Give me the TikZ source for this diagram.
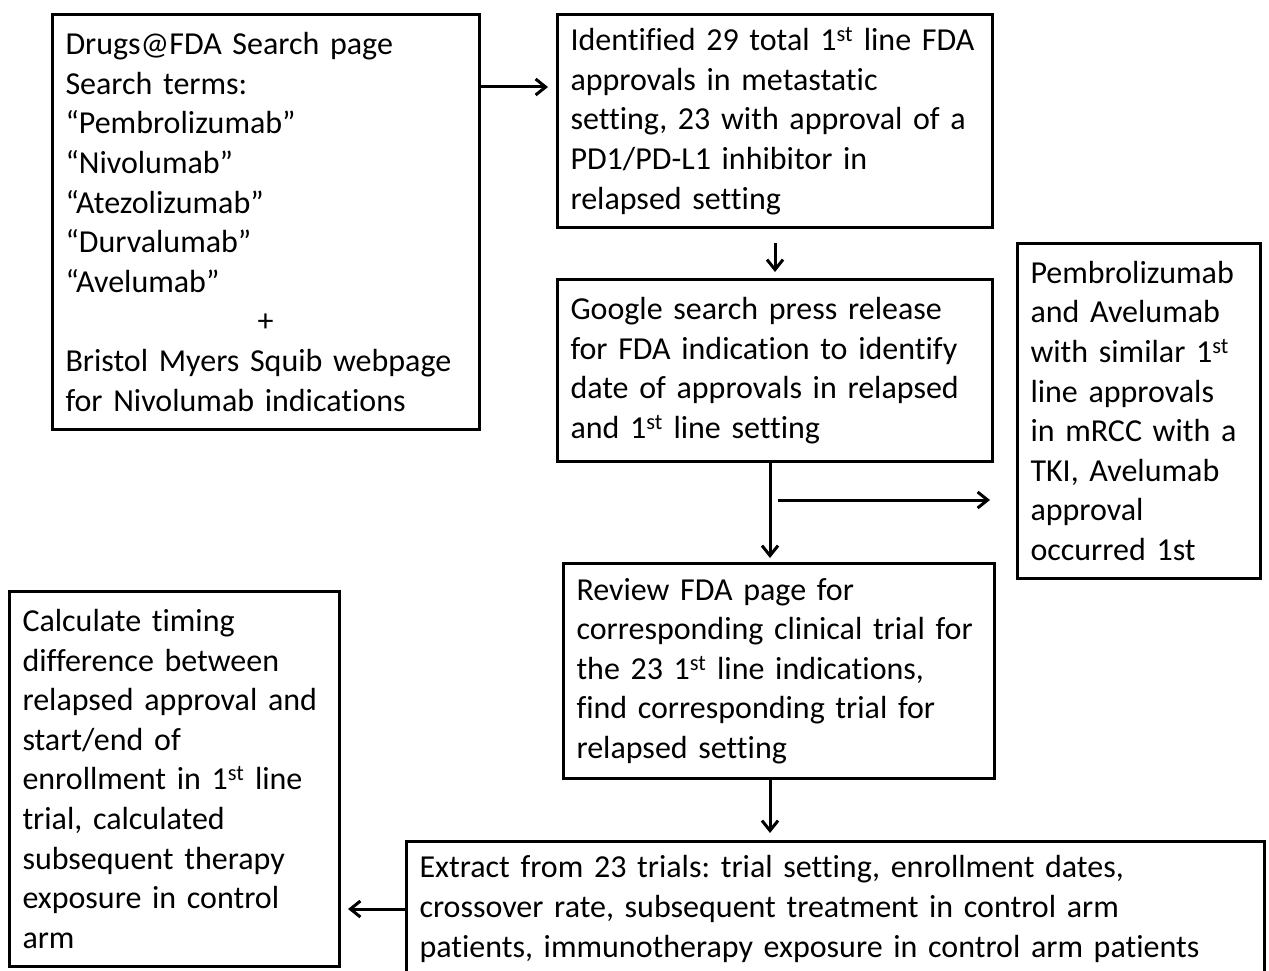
\documentclass[tikz,border=0pt]{standalone}
\usepackage{fontspec}
\setmainfont{Carlito}[Ligatures=NoCommon]
\usetikzlibrary{arrows.meta}
\frenchspacing
\newcommand\boxfont{\fontsize{32}{39.6}\selectfont\spaceskip=6.4pt plus 3pt\relax}

\begin{document}
\begin{tikzpicture}[x=1pt, y=-1pt, line width=3pt,
    every node/.style={font=\boxfont},
    box/.style={draw, anchor=north west, align=left, inner sep=0pt, inner xsep=13pt},
    flow/.style={line width=3pt, -{Straight Barb[length=10pt,width=16pt]}}]
    \useasboundingbox (0,0) rectangle (1269,971);
    % search sources
    \node[box, minimum width=427pt, minimum height=415pt, text width=401pt] (search) at (51,13)
        {Drugs@FDA Search page\\Search terms:\\“Pembrolizumab”\\“Nivolumab”\\“Atezolizumab”\\“Durvalumab”\\“Avelumab”\\\hspace*{192pt}+\\Bristol Myers Squib webpage\\for Nivolumab indications};
    \node[box, minimum width=435pt, minimum height=213pt, text width=409pt] (ident) at (556,13)
        {Identified 29 total 1\textsuperscript{st} line FDA\\approvals in metastatic\\setting, 23 with approval of a\\PD1/PD-L1 inhibitor in\\relapsed setting};
    \node[box, minimum width=435pt, minimum height=182pt, text width=409pt] (google) at (556,278)
        {Google search press release\\for FDA indication to identify\\date of approvals in relapsed\\and 1\textsuperscript{st} line setting};
    \node[box, minimum width=243pt, minimum height=335pt, text width=217pt] (pemb) at (1016,242)
        {Pembrolizumab\\and Avelumab\\with similar 1\textsuperscript{st}\\line approvals\\in mRCC with a\\TKI, Avelumab\\approval\\occurred 1st};
    \node[box, minimum width=431pt, minimum height=215pt, text width=405pt] (review) at (562,562)
        {Review FDA page for\\corresponding clinical trial for\\the 23 1\textsuperscript{st} line indications,\\find corresponding trial for\\relapsed setting};
    \node[box, minimum width=858pt, minimum height=135pt, text width=832pt] (extract) at (405,840)
        {Extract from 23 trials: trial setting, enrollment dates,\\crossover rate, subsequent treatment in control arm\\patients, immunotherapy exposure in control arm patients};
    \node[box, minimum width=330pt, minimum height=375pt, text width=304pt] (calc) at (8,590)
        {Calculate timing\\difference between\\relapsed approval and\\start/end of\\enrollment in 1\textsuperscript{st} line\\trial, calculated\\subsequent therapy\\exposure in control\\arm};
    % connectors
    \coordinate (fork) at (778,500);
    \draw[flow, shorten >=8pt] ([yshift=-74pt]search.north east) -- ([yshift=-74pt]ident.north west);
    \draw[flow, shorten <=14pt, shorten >=6pt] (ident.south) -- (google.north);
    \draw[flow, shorten >=4pt] ([xshift=-5pt]google.south) -- ([xshift=-5pt]google.south |- review.north);
    \draw[flow, shorten >=26pt] (fork) -- (fork -| pemb.west);
    \draw[flow, shorten >=7pt] ([xshift=-9pt]review.south) -- ([xshift=-9pt]review.south |- extract.north);
    \draw[flow, shorten >=7pt] (extract.west) -- (extract.west -| calc.east);
\end{tikzpicture}
\end{document}
